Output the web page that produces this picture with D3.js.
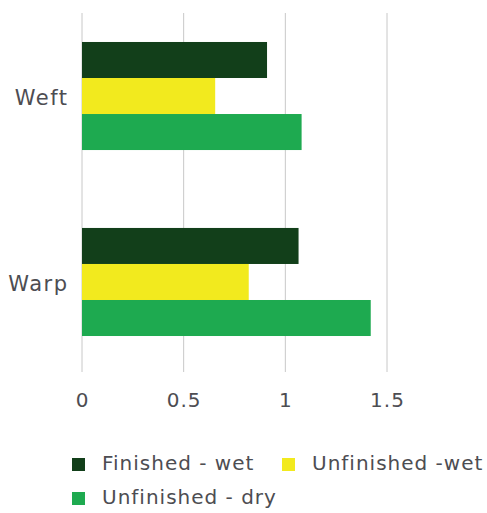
<!DOCTYPE html>
<html><head><meta charset="utf-8">
<script src="https://cdn.jsdelivr.net/npm/d3@7/dist/d3.min.js"></script>
<style>body{margin:0;background:#fff;} text{font-family:"DejaVu Sans",sans-serif;fill:#4d4d52;}</style>
</head><body><svg id="c" width="487" height="513"></svg>
<script>
const categories = ["Weft", "Warp"];
const seriesNames = ["Finished - wet", "Unfinished -wet", "Unfinished - dry"];
const finishedWet = [0.91, 1.065];
const unfinishedWet = [0.655, 0.82];
const unfinishedDry = [1.08, 1.42];
const xTicks = [0, 0.5, 1, 1.5];
const colors = ["#123f1a", "#f2ea1e", "#1eaa50"];

const seriesValues = [finishedWet, unfinishedWet, unfinishedDry];
const svg = d3.select("#c");
const x = d3.scaleLinear().domain([0, 1.5]).range([82, 387]);
const y = d3.scaleBand().domain(categories).range([10, 368]).paddingInner(0.419).paddingOuter(0.172);
const ySub = d3.scaleBand().domain(seriesNames).range([0, y.bandwidth()]);

// gridlines
svg.append("g").selectAll("line").data(xTicks).join("line")
  .attr("x1", d => x(d)).attr("x2", d => x(d)).attr("y1", 13).attr("y2", 372)
  .attr("stroke", "#c8c8c8").attr("stroke-width", 1);

// bars
const g = svg.append("g");
categories.forEach((c, ci) => {
  seriesNames.forEach((s, si) => {
    g.append("rect")
      .attr("x", x(0)).attr("y", y(c) + ySub(s))
      .attr("width", x(seriesValues[si][ci]) - x(0))
      .attr("height", ySub.bandwidth())
      .attr("fill", colors[si]);
  });
});

// y labels
svg.append("g").selectAll("text").data(categories).join("text")
  .attr("x", 68.5).attr("y", d => y(d) + y.bandwidth() / 2 + 2)
  .attr("text-anchor", "end").attr("dominant-baseline", "central")
  .attr("font-size", 21).attr("letter-spacing", 1.5).text(d => d);

// x tick labels
svg.append("g").selectAll("text").data(xTicks).join("text")
  .attr("x", d => x(d) + 0.5).attr("y", 407)
  .attr("text-anchor", "middle").attr("font-size", 20).attr("letter-spacing", 1).text(d => d);

// legend
const legendPos = [[72, 458], [282, 458], [72, 492]];
const lg = svg.append("g");
seriesNames.forEach((s, i) => {
  const [lx, ly] = legendPos[i];
  lg.append("rect").attr("x", lx).attr("y", ly).attr("width", 13).attr("height", 13).attr("fill", colors[i]);
  lg.append("text").attr("x", lx + 30).attr("y", ly + 12).attr("font-size", 20).attr("letter-spacing", 1).text(s);
});
</script></body></html>
